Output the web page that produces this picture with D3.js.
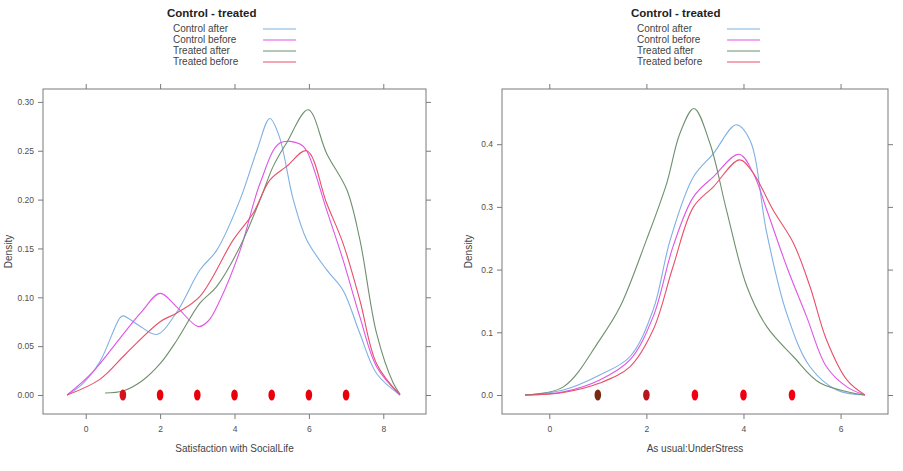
<!DOCTYPE html>
<html>
<head>
<meta charset="utf-8">
<script src="https://cdn.jsdelivr.net/npm/d3@7"></script>
<style>
  body{margin:0;background:#fff}
  svg{display:block}
  text{font-family:"Liberation Sans",Arial,sans-serif}
</style>
</head>
<body>
<svg id="chart" width="903" height="471"></svg>
<script>
// series names + colors (legend order)
const seriesNames = ["Control after","Control before","Treated after","Treated before"]
const seriesColors = ["#7fb0e3","#df55e6","#6e906e","#e8506a"]

// panel 1 : Satisfaction with SocialLife  ([x, density])
const socialCtrlAfter = [[-0.5,0],[-0.07,0.012],[0.38,0.034],[0.92,0.079],[1.01,0.081],[1.4,0.072],[1.91,0.062],[2.45,0.085],[3.07,0.128],[3.52,0.148],[4.15,0.2],[4.6,0.25],[4.95,0.283],[5.2,0.265],[5.58,0.2],[5.94,0.159],[6.48,0.128],[6.92,0.107],[7.37,0.063],[7.82,0.022],[8.45,0]]
const socialCtrlBefore = [[-0.5,0],[0.2,0.024],[0.92,0.058],[1.5,0.085],[2.0,0.104],[2.45,0.09],[3.03,0.07],[3.3,0.076],[3.61,0.097],[4.15,0.148],[4.69,0.217],[5.22,0.258],[5.76,0.257],[5.94,0.25],[6.48,0.189],[6.92,0.138],[7.37,0.08],[7.82,0.029],[8.45,0]]
const socialTrtAfter = [[0.52,0.002],[1.0,0.004],[1.5,0.014],[2.0,0.032],[2.45,0.056],[3.07,0.094],[3.52,0.111],[4.15,0.152],[4.69,0.2],[5.04,0.234],[5.4,0.258],[5.98,0.292],[6.48,0.247],[7.02,0.21],[7.37,0.159],[7.82,0.063],[8.27,0.012],[8.45,0.001]]
const socialTrtBefore = [[-0.5,0],[0.38,0.016],[1.1,0.043],[2.0,0.075],[2.45,0.084],[3.07,0.101],[3.97,0.159],[4.5,0.186],[4.95,0.22],[5.4,0.234],[5.94,0.25],[6.48,0.196],[6.92,0.155],[7.37,0.097],[7.82,0.032],[8.45,0]]
const socialRug = [1,2,3,4,5,6,7]
const socialRugColors = ["#d8101a","#e8000b","#e8000b","#e8000b","#e8000b","#e8000b","#e8000b"]
const socialXTicks = [0,2,4,6,8]
const socialYTicks = [0,0.05,0.1,0.15,0.2,0.25,0.3]

// panel 2 : As usual:UnderStress
const stressCtrlAfter = [[-0.5,0],[0.29,0.008],[1.04,0.032],[1.66,0.061],[2.14,0.136],[2.49,0.247],[2.97,0.348],[3.38,0.385],[3.85,0.431],[4.13,0.407],[4.48,0.258],[4.89,0.13],[5.37,0.045],[5.92,0.008],[6.5,0]]
const stressCtrlBefore = [[-0.5,0],[0.29,0.005],[1.04,0.024],[1.66,0.056],[2.14,0.125],[2.55,0.237],[2.97,0.316],[3.38,0.348],[3.91,0.384],[4.2,0.354],[4.48,0.295],[4.89,0.205],[5.3,0.125],[5.71,0.045],[6.13,0.013],[6.5,0]]
const stressTrtAfter = [[-0.5,0],[0.29,0.013],[1.04,0.088],[1.46,0.141],[2.0,0.247],[2.42,0.338],[2.69,0.417],[2.98,0.457],[3.31,0.401],[3.65,0.295],[4.07,0.173],[4.48,0.109],[5.03,0.061],[5.58,0.019],[6.5,0]]
const stressTrtBefore = [[-0.5,0],[0.29,0.004],[1.04,0.019],[1.66,0.045],[2.14,0.104],[2.55,0.205],[2.97,0.3],[3.38,0.332],[3.92,0.375],[4.2,0.354],[4.61,0.295],[5.03,0.242],[5.37,0.173],[5.71,0.088],[6.13,0.024],[6.5,0]]
const stressRug = [1,2,3,4,5]
const stressRugColors = ["#7a2a12","#b8141a","#f00010","#f00010","#f00010"]
const stressXTicks = [0,2,4,6]
const stressYTicks = [0,0.1,0.2,0.3,0.4]

const svg = d3.select("#chart")

const panels = [
  {left:43,right:426,xDom:[-1.148,9.148],yDom:[-0.01945,0.3132],
   series:[socialCtrlAfter,socialCtrlBefore,socialTrtAfter,socialTrtBefore],
   rug:socialRug,rugColors:socialRugColors,xTicks:socialXTicks,yTicks:socialYTicks,
   yFmt:d3.format(".2f"),xLabel:"Satisfaction with SocialLife",ylabX:8,legX:167},
  {left:502,right:888,xDom:[-0.974,6.977],yDom:[-0.0303,0.488],
   series:[stressCtrlAfter,stressCtrlBefore,stressTrtAfter,stressTrtBefore],
   rug:stressRug,rugColors:stressRugColors,xTicks:stressXTicks,yTicks:stressYTicks,
   yFmt:d3.format(".1f"),xLabel:"As usual:UnderStress",ylabX:468,legX:631}
]
const panelTop=89,panelBottom=414

panels.forEach(p=>{
  let x=d3.scaleLinear().domain(p.xDom).range([p.left,p.right])
  let y=d3.scaleLinear().domain(p.yDom).range([panelBottom,panelTop])
  let g=svg.append("g")

  // frame
  g.append("rect").attr("x",p.left).attr("y",panelTop)
    .attr("width",p.right-p.left).attr("height",panelBottom-panelTop)
    .attr("fill","none").attr("stroke","#7a7a7a")

  // axes on four sides (labels only left / bottom)
  let axB=g.append("g").attr("transform",`translate(0,${panelBottom})`)
    .call(d3.axisBottom(x).tickValues(p.xTicks).tickSize(5).tickPadding(7))
  let axT=g.append("g").attr("transform",`translate(0,${panelTop})`)
    .call(d3.axisTop(x).tickValues(p.xTicks).tickSize(5).tickFormat(""))
  let axL=g.append("g").attr("transform",`translate(${p.left},0)`)
    .call(d3.axisLeft(y).tickValues(p.yTicks).tickSize(5).tickPadding(4).tickFormat(p.yFmt))
  let axR=g.append("g").attr("transform",`translate(${p.right},0)`)
    .call(d3.axisRight(y).tickValues(p.yTicks).tickSize(5).tickFormat(""))
  ;[axB,axT,axL,axR].forEach(a=>{
    a.select(".domain").remove()
    a.selectAll("line").attr("stroke","#7a7a7a")
    a.selectAll("text").attr("fill","#505050").style("font-size","8.5px").style("font-family","'Liberation Sans',Arial,sans-serif")
  })

  // density lines
  let line=d3.line().x(d=>x(d[0])).y(d=>y(d[1])).curve(d3.curveCatmullRom.alpha(0.5))
  g.append("g").selectAll("path").data(p.series).join("path")
    .attr("d",line).attr("fill","none")
    .attr("stroke",(d,i)=>seriesColors[i]).attr("stroke-width",1.1)

  // rug points
  g.append("g").selectAll("ellipse").data(p.rug).join("ellipse")
    .attr("cx",d=>x(d)).attr("cy",y(0))
    .attr("rx",3.3).attr("ry",5.5)
    .attr("fill",(d,i)=>p.rugColors[i])

  // axis titles
  g.append("text").attr("x",(p.left+p.right)/2).attr("y",452)
    .attr("text-anchor","middle").attr("fill","#444").style("font-size","10px")
    .text(p.xLabel)
  g.append("text").attr("transform",`translate(${p.ylabX},${(panelTop+panelBottom)/2}) rotate(-90)`)
    .attr("text-anchor","middle").attr("dy","0.35em").attr("fill","#444").style("font-size","10px")
    .text("Density")

  // legend
  let leg=g.append("g")
  leg.append("text").attr("x",p.legX).attr("y",17).attr("font-weight","bold")
    .attr("fill","#222").style("font-size","11.5px").text("Control - treated")
  seriesNames.forEach((n,i)=>{
    leg.append("text").attr("x",p.legX+6).attr("y",32+i*11)
      .attr("fill","#444").style("font-size","10px").text(n)
    leg.append("line").attr("x1",p.legX+96).attr("x2",p.legX+129)
      .attr("y1",29+i*11).attr("y2",29+i*11)
      .attr("stroke",seriesColors[i]).attr("stroke-width",1.1)
  })
})
</script>
</body>
</html>
